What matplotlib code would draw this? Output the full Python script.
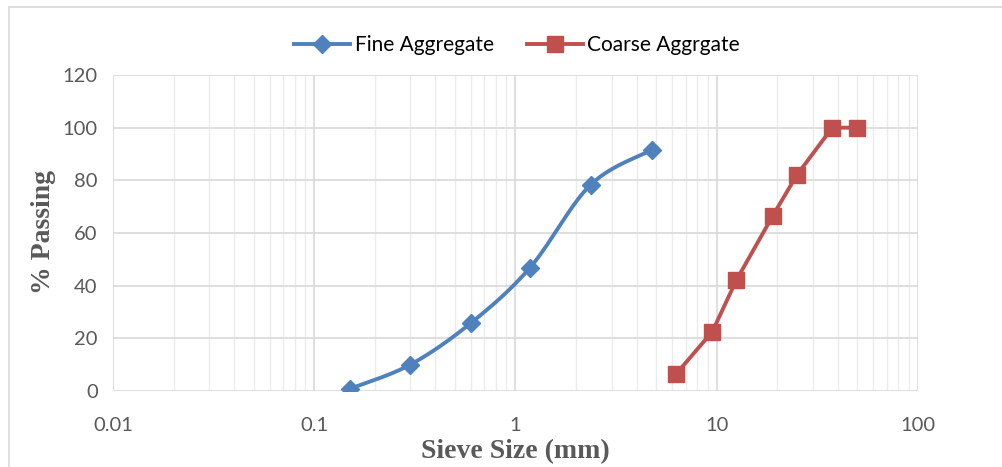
import numpy as np
import matplotlib
matplotlib.use("Agg")
import matplotlib.pyplot as plt
from matplotlib.patches import Rectangle
from matplotlib.lines import Line2D

fine_size = [0.15, 0.3, 0.6, 1.18, 2.36, 4.75]
fine_pass = [0.8, 10.0, 25.8, 46.8, 78.3, 91.5]
coarse_size = [6.3, 9.5, 12.5, 19.0, 25.0, 37.5, 50.0]
coarse_pass = [6.6, 22.5, 42.0, 66.6, 82.0, 100.0, 100.0]
x_ticks = [0.01, 0.1, 1, 10, 100]
x_tick_labels = ["0.01", "0.1", "1", "10", "100"]
y_ticks = [0, 20, 40, 60, 80, 100, 120]

W, H = 1003, 467
fig = plt.figure(figsize=(W / 100, H / 100), dpi=100)
ax = fig.add_axes([113 / W, 1 - 391 / H, (918 - 113) / W, (391 - 75) / H])

# outer chart border
fig.patches.append(Rectangle((9 / W, -0.05), 1.1, 1 - 7 / H + 0.05, transform=fig.transFigure,
                             fill=False, edgecolor="#d9d9d9", linewidth=1.2, zorder=0))


def smooth(xs, ys, n=30):
    lx = np.log10(xs)
    ys = np.asarray(ys, float)
    sx = lx * 201.25
    sy = ys * 2.633
    P = np.column_stack([sx, sy])
    out = []
    for i in range(len(P) - 1):
        p0 = P[i - 1] if i > 0 else P[i]
        p1 = P[i]
        p2 = P[i + 1]
        p3 = P[i + 2] if i + 2 < len(P) else P[i + 1]
        c1 = p1 + (p2 - p0) / 6
        c2 = p2 - (p3 - p1) / 6
        t = np.linspace(0, 1, n)[:, None]
        seg = (1 - t) ** 3 * p1 + 3 * (1 - t) ** 2 * t * c1 + 3 * (1 - t) * t ** 2 * c2 + t ** 3 * p2
        out.append(seg if i == 0 else seg[1:])
    out = np.vstack(out)
    return 10 ** (out[:, 0] / 201.25), out[:, 1] / 2.633


blue = "#4f81bd"
red = "#c0504d"
sx, sy = smooth(fine_size, fine_pass)
ax.plot(sx, sy, color=blue, lw=2.8, zorder=3, solid_capstyle="round")
ax.plot(fine_size, fine_pass, ls="none", marker="D", ms=9, color=blue, zorder=4)
ax.plot(coarse_size, coarse_pass, color=red, lw=2.8, marker="s", ms=11, zorder=4)

h1 = Line2D([], [], color=blue, lw=2.8, marker="D", ms=9)
h2 = Line2D([], [], color=red, lw=2.8, marker="s", ms=11)
leg = fig.legend([h1, h2], ["Fine Aggregate", "Coarse Aggrgate"], loc="center",
                 bbox_to_anchor=(517 / W, 1 - 45 / H), ncol=2, frameon=False,
                 prop={"family": "Lato", "size": 15}, handlelength=2.7, columnspacing=1.6,
                 handletextpad=0.2)

ax.set_xscale("log")
ax.set_xlim(0.01, 100)
ax.set_ylim(0, 120)
ax.set_xticks(x_ticks)
ax.set_xticklabels(x_tick_labels)
ax.set_yticks(y_ticks)
ax.xaxis.set_minor_locator(matplotlib.ticker.LogLocator(base=10, subs=np.arange(2, 10)))
ax.xaxis.set_minor_formatter(matplotlib.ticker.NullFormatter())
ax.grid(True, which="major", color="#d9d9d9", lw=1.2, zorder=0)
ax.grid(True, which="minor", axis="x", color="#ebebeb", lw=1.0, zorder=0)
ax.set_axisbelow(True)
for s in ax.spines.values():
    s.set_visible(False)
ax.tick_params(which="both", length=0, labelsize=14.5, labelcolor="#595959")
ax.tick_params(axis="x", pad=19)
ax.tick_params(axis="y", pad=11)
for lab in ax.get_xticklabels() + ax.get_yticklabels():
    lab.set_family("Lato")

fig.text(515 / W, 1 - 452 / H, "Sieve Size (mm)", family="Liberation Serif", fontweight="bold",
         fontsize=20, color="#595959", ha="center", va="center")
fig.text(44 / W, 1 - 232 / H, "% Passing", family="Liberation Serif", fontweight="bold",
         fontsize=20, color="#595959", ha="center", va="center", rotation=90)

fig.savefig("out.png", dpi=100)
